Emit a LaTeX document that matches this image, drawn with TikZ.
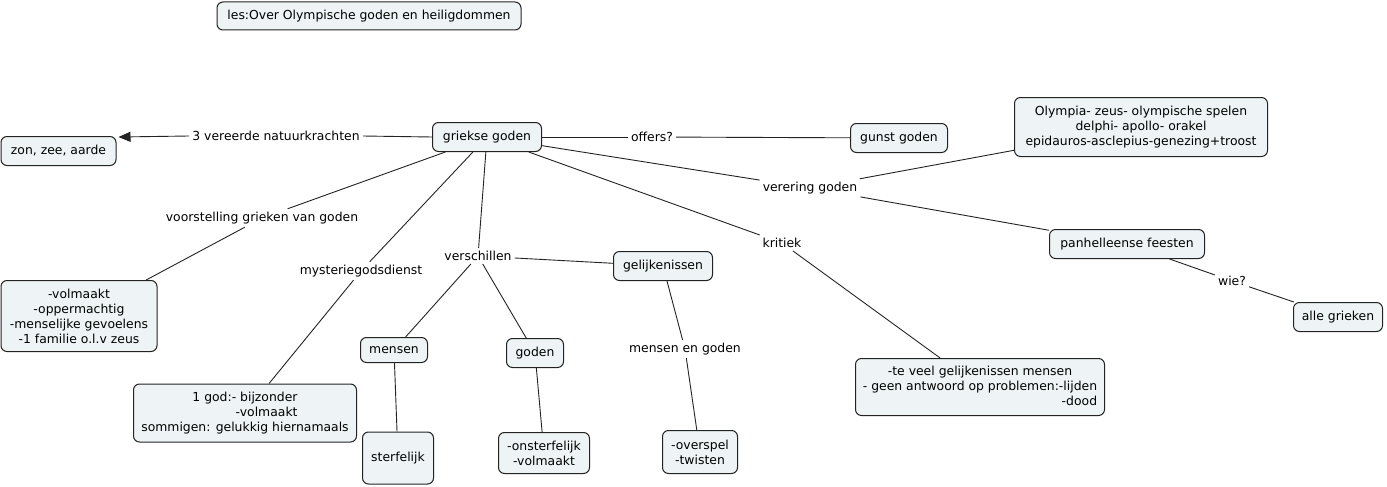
\documentclass[tikz,border=0pt]{standalone}
\usepackage{fontspec}
\setmainfont{DejaVu Sans}
\usetikzlibrary{arrows.meta}
\definecolor{boxfill}{RGB}{238,244,246}
\definecolor{linecol}{RGB}{35,35,35}
\begin{document}
\begin{tikzpicture}[x=1pt,y=-1pt,
  cbox/.style={draw=linecol, fill=boxfill, rounded corners=6pt, line width=1pt,
    font=\fontsize{12.4}{15}\selectfont, align=center, inner sep=2pt},
  lbl/.style={font=\fontsize{12.4}{15}\selectfont, inner sep=3pt},
  conn/.style={draw=linecol, line width=0.9pt}]
\useasboundingbox (0,0) rectangle (1387,487);
% concepts
\node[cbox, minimum width=304pt, minimum height=28pt] (title) at (369,16) {les:Over Olympische goden en heiligdommen};
\node[cbox, minimum width=115pt, minimum height=29pt] (zon) at (58.5,151) {zon, zee, aarde};
\node[cbox, minimum width=109pt, minimum height=29pt] (gg) at (487,137) {griekse goden};
\node[cbox, minimum width=97pt, minimum height=29pt] (gunst) at (899,138) {gunst goden};
\node[cbox, minimum width=253pt, minimum height=59pt] (olymp) at (1141,127) {Olympia- zeus- olympische spelen\\delphi- apollo- orakel\\epidauros-asclepius-genezing+troost};
\node[cbox, minimum width=155pt, minimum height=29pt] (pan) at (1127,244) {panhelleense feesten};
\node[cbox, minimum width=89pt, minimum height=29pt] (alle) at (1338,317) {alle grieken};
\node[cbox, minimum width=156pt, minimum height=71pt] (volm) at (79,316) {-volmaakt\\-oppermachtig\\-menselijke gevoelens\\-1 familie o.l.v zeus};
\node[cbox, minimum width=223pt, minimum height=58pt] (god1) at (245,413) {1 god:- bijzonder\\\hphantom{1 god:- bijzonder}\llap{-volmaakt}\\sommigen: gelukkig hiernamaals};
\node[cbox, minimum width=67pt, minimum height=25pt] (mensen) at (394,350) {mensen};
\node[cbox, minimum width=71pt, minimum height=52pt] (sterf) at (398,458) {sterfelijk};
\node[cbox, minimum width=57pt, minimum height=29pt] (goden) at (535,353) {goden};
\node[cbox, minimum width=91pt, minimum height=41pt] (onst) at (544,453) {-onsterfelijk\\-volmaakt};
\node[cbox, minimum width=99pt, minimum height=29pt] (gelijk) at (663,266) {gelijkenissen};
\node[cbox, minimum width=75pt, minimum height=43pt] (oversp) at (700,452) {-overspel\\-twisten};
\node[cbox, minimum width=249pt, minimum height=57pt] (teveel) at (980,387) {\begin{tabular}{@{}c@{}}-te veel gelijkenissen mensen\\- geen antwoord op problemen:-lijden\\\multicolumn{1}{@{}r@{}}{-dood}\end{tabular}};
% linking phrases
\node[lbl] (l3) at (276,136) {3 vereerde natuurkrachten};
\node[lbl] (loff) at (652,137) {offers?};
\node[lbl] (lver) at (810,188) {verering goden};
\node[lbl] (lvoor) at (262,218) {voorstelling grieken van goden};
\node[lbl] (lmyst) at (361,271) {mysteriegodsdienst};
\node[lbl] (lversch) at (478,256) {verschillen};
\node[lbl] (lkrit) at (782,243) {kritiek};
\node[lbl] (lmeg) at (685,349) {mensen en goden};
\node[lbl] (lwie) at (1232,281) {wie?};
% connectors
\draw[conn] (gg.west) -- (l3.east);
\draw[conn, -{Triangle[length=12pt,width=10pt]}] (l3.west) -- ([xshift=2pt,yshift=-1pt]zon.north east);
\draw[conn] (gg) -- (loff);
\draw[conn] (loff) -- (gunst);
\draw[conn] (gg) -- (lver);
\draw[conn] (lver) -- (olymp);
\draw[conn] (lver) -- (pan);
\draw[conn] (pan) -- (lwie);
\draw[conn] (lwie) -- (alle);
\draw[conn] (gg) -- (lvoor);
\draw[conn] (lvoor) -- (volm);
\draw[conn] (gg) -- (lmyst);
\draw[conn] (lmyst) -- (god1);
\draw[conn] (gg) -- (lversch);
\draw[conn] (lversch) -- (mensen);
\draw[conn] (lversch) -- (goden);
\draw[conn] (lversch) -- (gelijk);
\draw[conn] (mensen) -- (sterf);
\draw[conn] (goden) -- (onst);
\draw[conn] (gelijk) -- (lmeg);
\draw[conn] (lmeg) -- (oversp);
\draw[conn] (gg) -- (lkrit);
\draw[conn] (lkrit) -- (teveel);
\end{tikzpicture}
\end{document}
